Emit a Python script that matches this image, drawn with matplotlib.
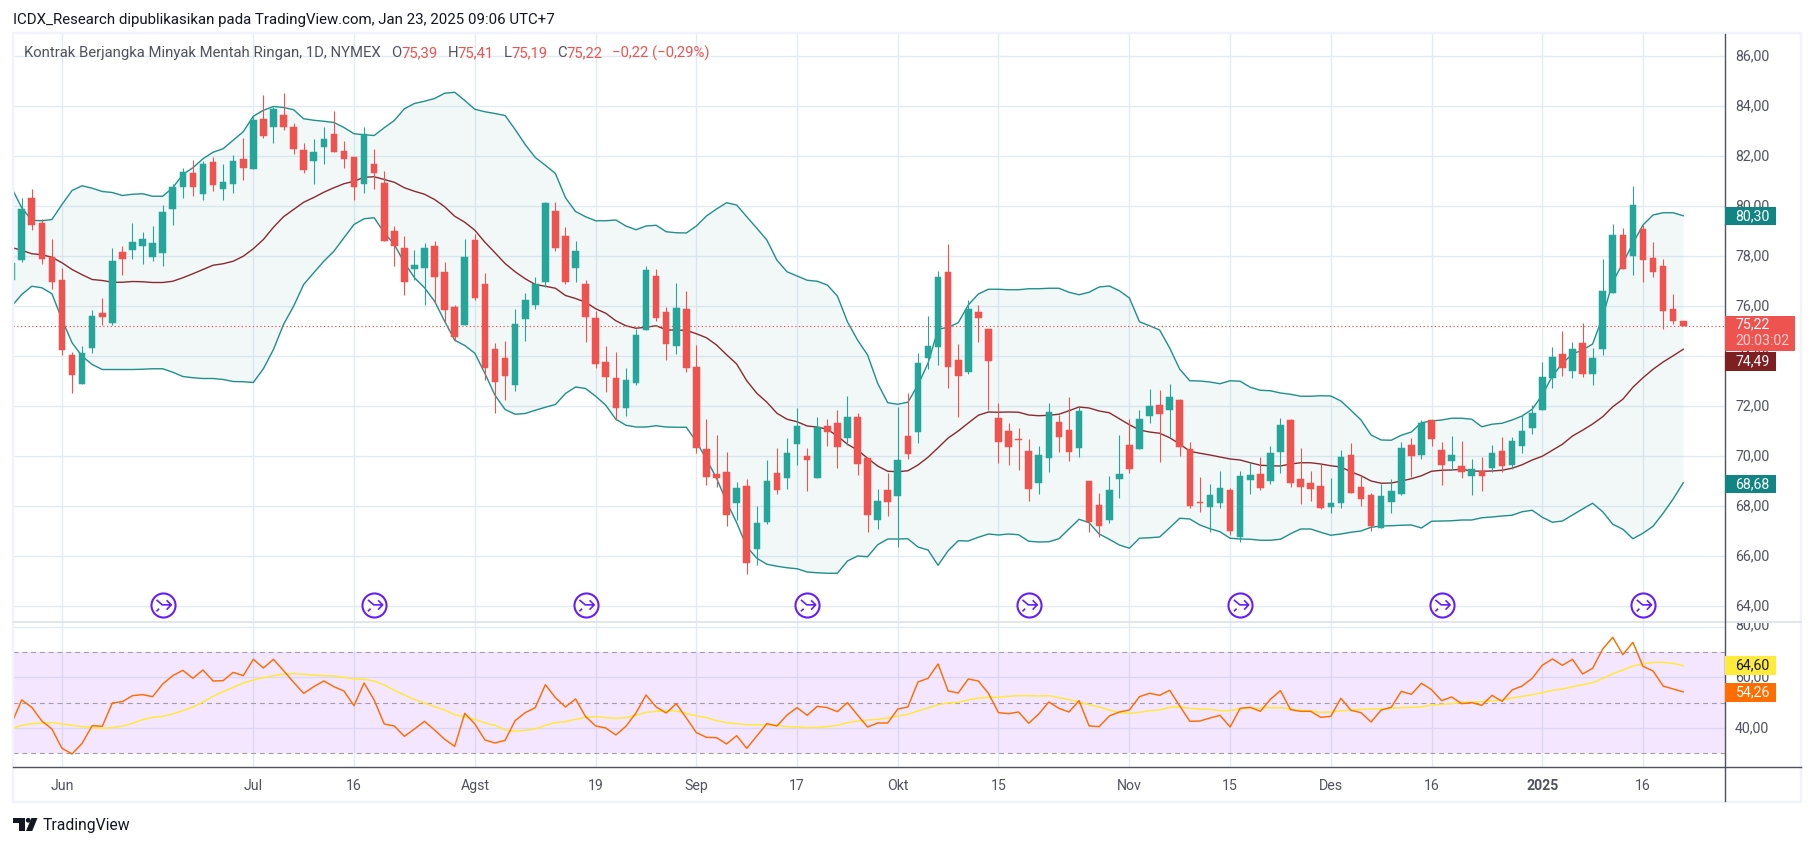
import numpy as np
import matplotlib
matplotlib.use("Agg")
import matplotlib.pyplot as plt
from matplotlib.patches import Rectangle, Polygon
from matplotlib.lines import Line2D
from matplotlib.path import Path
from matplotlib.transforms import Bbox, ScaledTranslation

plt.rcParams['font.family'] = ['Roboto', 'DejaVu Sans']

opens = [77.03,
77.83,80.31,79.31,77.98,77.03,74.07,72.91,74.31,75.71,75.35,78.15,78.23,78.39,77.95,78.11,79.91,80.75,81.31,80.47,81.75,
80.71,80.87,81.91,81.47,83.47,83.19,83.63,83.19,82.27,81.79,82.39,82.91,82.19,81.95,80.87,81.71,80.91,78.99,78.31,77.47,
77.51,78.39,77.35,75.95,75.23,78.63,76.91,74.27,73.91,72.83,75.47,76.03,76.99,79.79,78.79,77.51,76.87,75.51,73.77,73.13,
71.93,72.93,75.06,77.21,75.77,74.41,75.89,73.57,70.29,69.29,69.37,68.13,68.81,66.29,67.37,69.33,69.13,70.49,70.01,69.13,
71.21,71.33,70.73,71.57,69.93,67.45,68.65,68.41,70.81,70.97,73.93,74.37,77.37,73.85,73.37,75.77,75.09,71.53,71.01,70.68,
70.21,68.93,69.93,71.37,71.05,70.33,69.01,68.05,67.45,69.09,70.45,70.29,71.61,72.05,71.85,72.25,70.29,68.17,67.97,68.13,
68.65,66.77,69.05,69.29,69.01,70.17,71.45,69.09,68.93,68.81,67.97,68.13,70.05,68.77,68.45,67.13,68.17,68.49,70.45,70.05,
71.45,70.25,69.81,69.61,69.21,69.40,69.53,70.21,69.65,70.41,71.13,71.85,73.13,74.09,73.41,74.53,73.29,74.29,76.53,78.85,
78.01,79.09,77.93,77.61,75.89,75.39]
highs = [78.30,
80.34,80.67,79.47,78.67,77.54,74.18,74.39,75.83,76.31,78.35,78.39,79.35,78.95,79.19,80.07,80.91,81.55,81.83,81.79,81.95,
81.67,82.07,82.75,83.60,84.43,83.99,84.55,83.35,82.51,82.71,83.15,83.79,82.63,81.95,83.15,82.31,81.39,79.19,78.79,78.23,
78.51,78.63,77.75,76.03,78.71,78.91,77.35,74.51,74.59,75.87,76.55,77.15,80.19,80.19,79.15,78.63,77.03,75.79,74.41,74.17,
73.53,75.09,77.61,77.49,75.97,76.93,76.61,74.45,71.49,70.85,70.17,68.97,69.09,68.01,69.85,70.33,70.73,71.93,70.33,71.57,
71.49,71.85,72.41,71.73,69.93,68.69,69.33,71.97,72.53,74.13,75.61,77.41,78.49,74.49,76.25,76.05,75.09,72.13,71.33,71.13,
70.69,70.41,72.13,71.65,72.37,71.97,69.01,68.53,69.21,70.85,71.49,71.85,72.69,72.65,72.89,72.29,70.57,69.17,68.89,69.41,
68.73,69.41,69.77,69.97,70.41,71.53,71.49,70.33,69.41,69.69,69.13,70.25,70.53,69.21,68.53,68.89,69.09,70.57,70.73,71.45,
71.45,70.57,70.81,70.61,69.89,69.97,70.45,70.77,70.77,71.65,72.05,73.77,74.37,75.01,74.57,75.33,74.33,77.89,79.29,79.13,
80.81,79.25,78.57,77.89,76.49,75.41]
lows = [76.90,
77.76,79.04,77.67,76.71,74.04,72.51,72.87,74.11,75.27,75.26,77.27,77.91,77.71,77.79,77.63,79.23,80.35,80.39,80.27,80.59,
80.23,80.55,81.03,81.47,82.75,82.51,83.07,82.11,81.31,80.87,81.67,82.15,81.51,80.27,80.51,80.67,78.63,77.59,76.43,77.07,
76.07,76.11,75.35,74.63,75.23,76.27,73.03,71.72,72.23,72.63,74.63,75.91,76.75,78.19,76.87,76.99,74.55,73.51,72.57,71.45,
71.61,72.85,75.05,75.41,73.85,74.09,73.37,70.13,68.85,68.77,67.21,67.45,65.29,65.65,67.29,68.49,68.69,69.65,68.61,69.13,
70.41,69.53,70.45,69.25,66.97,67.09,67.61,66.37,69.89,70.53,73.49,73.65,72.73,71.57,73.29,74.57,71.85,69.73,69.65,69.45,
68.21,68.49,69.37,70.17,69.81,69.97,66.97,66.77,67.33,68.33,69.33,70.29,71.33,69.77,70.77,70.01,67.93,67.77,66.97,67.93,
66.85,66.57,68.49,68.65,68.89,69.33,68.77,68.09,68.21,67.89,67.73,67.93,68.53,68.01,67.01,67.13,67.73,68.45,69.17,69.89,
70.41,68.85,69.45,69.13,68.45,68.61,69.37,69.37,69.49,70.13,70.89,71.85,72.73,73.21,73.13,73.17,72.85,74.05,76.53,77.49,
77.25,76.97,77.17,75.09,75.29,75.19]
closes = [77.74,
79.87,79.23,77.91,76.99,74.23,73.27,74.11,75.59,75.55,77.79,77.91,78.55,78.67,78.51,79.75,80.75,81.35,80.75,81.67,80.83,
80.95,81.79,81.55,83.43,82.79,83.91,83.15,82.31,81.43,82.15,82.67,82.19,81.91,80.75,82.87,81.31,78.63,78.39,76.95,77.63,
78.31,77.15,75.83,74.75,77.95,76.31,73.51,72.95,73.19,75.27,76.23,76.87,80.11,78.35,76.99,78.19,75.55,73.67,73.17,71.93,
73.05,74.85,77.45,75.53,74.49,75.93,73.53,70.33,69.17,69.13,67.65,68.73,65.73,67.33,69.01,68.65,70.13,71.21,69.85,71.17,
70.97,70.37,71.57,69.69,67.65,68.21,68.17,69.85,70.09,73.73,74.41,77.17,73.57,73.21,75.89,75.53,73.81,70.57,70.37,70.65,
68.69,70.05,71.77,70.77,70.17,71.81,67.37,67.21,68.65,69.29,69.49,71.49,72.01,71.69,72.37,70.37,68.01,68.14,68.45,68.73,
67.01,69.21,69.25,68.73,70.13,71.25,68.93,68.77,68.69,67.93,68.13,69.97,68.53,68.29,67.21,68.41,68.61,70.33,70.01,71.33,
70.69,69.65,70.05,69.37,69.49,69.21,70.13,69.61,70.61,71.01,71.73,73.17,73.97,73.53,74.29,73.29,73.93,76.61,78.85,77.49,
80.05,77.85,77.37,75.81,75.41,75.22]

bb_upper = [80.74,
79.94,79.44,79.42,79.47,80.07,80.63,80.82,80.72,80.59,80.55,80.43,80.48,80.50,80.40,80.40,80.74,81.27,81.54,81.90,82.16,
82.30,82.64,82.98,83.60,83.84,83.99,83.95,83.86,83.50,83.44,83.40,83.35,83.15,82.90,82.86,82.83,83.14,83.43,83.90,84.11,
84.20,84.31,84.52,84.56,84.23,83.88,83.78,83.71,83.63,83.07,82.47,81.95,81.64,81.31,80.34,79.79,79.58,79.42,79.42,79.45,
79.21,79.06,79.21,79.24,78.98,78.94,78.93,79.21,79.61,79.89,80.14,80.05,79.58,79.12,78.65,77.84,77.38,77.21,77.04,77.00,
76.85,76.41,75.38,74.65,74.05,72.92,72.14,72.08,72.16,72.85,73.72,75.08,75.16,75.34,76.05,76.49,76.68,76.68,76.66,76.66,
76.70,76.70,76.72,76.72,76.56,76.46,76.56,76.77,76.81,76.62,76.33,75.38,75.22,75.05,74.33,73.48,73.02,73.01,72.97,72.90,
73.02,73.00,72.76,72.64,72.62,72.53,72.48,72.40,72.40,72.42,72.41,72.21,71.84,71.45,70.85,70.65,70.64,70.84,70.97,71.34,
71.41,71.45,71.52,71.52,71.48,71.18,71.28,71.32,71.45,71.61,71.88,72.45,73.21,73.72,74.09,74.25,74.49,75.58,76.98,77.72,
78.52,79.25,79.65,79.74,79.74,79.62]
bb_basis = [78.35,
78.24,78.10,78.06,77.96,77.74,77.47,77.26,77.07,77.03,76.96,76.96,76.99,76.98,76.95,76.95,77.00,77.14,77.30,77.47,77.64,
77.70,77.80,78.00,78.30,78.67,79.16,79.58,79.87,80.16,80.35,80.56,80.74,80.90,81.00,81.16,81.18,81.07,80.96,80.74,80.60,
80.48,80.27,79.98,79.60,79.36,79.04,78.56,78.14,77.71,77.38,77.10,76.87,76.80,76.72,76.43,76.31,76.16,75.90,75.72,75.42,
75.22,75.12,75.16,75.22,75.06,75.04,75.04,74.90,74.74,74.45,74.06,73.69,73.02,72.52,72.16,71.72,71.48,71.38,71.21,71.17,
71.08,70.81,70.48,70.25,69.92,69.61,69.40,69.38,69.42,69.65,69.96,70.34,70.73,71.01,71.33,71.64,71.77,71.76,71.77,71.76,
71.65,71.62,71.64,71.68,71.82,71.97,71.93,71.81,71.74,71.50,71.26,71.05,70.97,70.92,70.74,70.49,70.20,70.12,70.05,69.97,
69.89,69.85,69.74,69.64,69.62,69.61,69.69,69.74,69.74,69.69,69.62,69.57,69.38,69.22,69.01,68.92,68.93,69.01,69.10,69.22,
69.40,69.44,69.45,69.48,69.41,69.40,69.41,69.44,69.52,69.66,69.85,70.00,70.24,70.48,70.81,71.04,71.29,71.58,71.98,72.28,
72.76,73.14,73.48,73.77,74.02,74.28]
bb_lower = [76.00,
76.47,76.80,76.74,76.50,75.47,74.54,74.00,73.67,73.47,73.47,73.47,73.47,73.48,73.50,73.50,73.36,73.19,73.14,73.11,73.11,
73.07,72.99,72.98,72.95,73.50,74.27,75.27,76.00,76.87,77.34,77.80,78.20,78.74,79.27,79.50,79.54,78.94,78.47,77.74,77.14,
76.74,76.20,75.40,74.64,74.43,74.12,73.31,72.44,71.87,71.68,71.71,71.84,71.96,72.07,72.51,72.77,72.71,72.40,72.04,71.48,
71.24,71.17,71.17,71.22,71.17,71.16,71.16,70.58,69.88,69.12,68.18,67.34,66.38,65.92,65.68,65.60,65.54,65.50,65.37,65.34,
65.32,65.32,65.81,66.01,65.98,66.46,66.69,66.69,66.70,66.37,66.25,65.64,66.22,66.62,66.61,66.76,66.89,66.85,66.89,66.86,
66.60,66.57,66.58,66.70,67.09,67.48,67.34,66.89,66.68,66.45,66.32,66.72,66.74,66.77,67.14,67.52,67.49,67.25,67.10,66.98,
66.72,66.69,66.68,66.64,66.64,66.68,66.90,67.09,67.09,66.96,66.84,66.89,66.96,67.01,67.16,67.21,67.22,67.24,67.25,67.13,
67.40,67.41,67.42,67.45,67.45,67.54,67.57,67.61,67.64,67.78,67.84,67.56,67.36,67.41,67.65,67.89,68.12,67.78,67.28,67.08,
66.70,66.92,67.20,67.72,68.29,68.94]

rsi_values = [41.84,
51.05,48.16,42.76,39.60,31.97,29.74,33.95,40.92,40.66,49.87,50.39,52.76,53.16,52.37,57.37,60.66,62.76,59.60,62.89,58.55,
58.68,61.97,60.66,67.10,63.68,67.10,62.63,58.03,53.68,56.31,58.55,56.31,54.60,48.81,57.76,51.05,41.58,40.79,36.71,39.60,
42.63,39.21,35.53,32.76,45.79,41.58,35.26,34.08,35.13,42.89,46.05,48.03,57.10,51.97,48.29,51.45,44.47,40.79,40.00,37.24,
40.66,45.92,53.03,48.29,45.92,49.60,43.95,38.16,36.31,36.18,33.68,36.97,31.97,36.84,41.71,40.79,45.13,48.03,45.00,48.55,
48.03,46.45,50.00,45.13,40.39,41.97,41.97,47.50,48.29,58.16,59.60,65.26,54.60,53.81,59.34,58.55,53.68,46.05,45.66,46.31,
41.84,45.53,50.26,47.76,46.31,50.79,40.79,40.53,44.74,46.31,47.10,52.37,53.68,52.89,54.87,48.68,42.63,42.76,43.95,45.00,
40.39,47.76,48.16,46.58,51.31,54.74,47.24,46.58,46.58,44.21,44.60,51.71,46.97,46.05,42.37,47.10,48.16,54.47,53.29,57.63,
55.13,50.79,52.24,49.60,50.00,48.95,52.89,50.53,55.00,56.58,59.60,64.74,67.24,64.74,67.10,61.31,63.55,71.18,75.79,68.95,
73.81,64.34,62.50,56.58,55.39,54.26]
rsi_ma = [39.74,
41.05,41.71,41.84,42.10,41.58,41.05,40.53,40.13,39.87,40.13,40.79,41.84,43.29,44.21,44.60,45.53,46.84,48.29,50.26,52.50,
54.34,56.05,57.76,58.95,59.87,60.66,61.31,61.45,61.18,60.92,60.66,60.53,60.00,59.34,59.21,58.55,56.97,54.87,53.03,51.18,
49.87,48.42,47.10,45.26,44.34,43.42,41.97,41.05,39.21,38.68,39.07,39.60,41.05,42.10,42.50,43.42,44.21,44.47,44.08,43.81,
44.08,45.00,46.18,46.58,46.71,46.71,45.79,44.74,44.08,42.89,42.10,41.71,41.31,41.31,41.31,41.05,40.53,40.39,40.13,40.26,
40.53,41.05,42.10,42.76,43.15,43.42,43.95,44.74,45.39,46.71,47.89,49.20,49.87,50.12,51.05,51.83,52.10,52.10,52.50,52.76,
52.76,52.62,52.76,51.97,51.18,50.26,49.20,48.29,47.10,46.05,45.79,46.18,46.84,47.10,48.16,48.29,47.76,47.50,47.36,46.84,
46.84,47.63,47.76,47.89,48.02,48.02,47.50,46.97,46.71,46.18,46.31,46.84,47.10,47.36,47.50,47.50,47.76,48.02,48.16,48.29,
49.07,49.33,49.60,50.12,50.26,50.39,50.79,51.05,51.83,52.50,53.15,53.94,54.87,55.39,56.31,57.10,57.89,59.47,61.45,62.89,
64.47,65.26,65.92,65.92,65.52,64.60]

price_ticks = [64, 66, 68, 70, 72, 74, 76, 78, 80, 82, 84, 86]
time_ticks = [4, 23, 33, 45, 57, 67, 77, 87, 97, 110, 120, 130, 140, 151, 161]
time_labels = ['Jun', 'Jul', '16', 'Agst', '19', 'Sep', '17', 'Okt', '15', 'Nov', '15', 'Des', '16', '2025', '16']
event_bars = [14, 35, 56, 78, 100, 121, 141, 161]
event_level = 64.03
last_price = 75.22

W, H = 1814, 846
fig = plt.figure(figsize=(W / 100, H / 100), dpi=100, facecolor='white')

def fx(x): return x / W
def fy(y): return 1 - y / H
def box(l, t, r, b): return [fx(l), fy(b), (r - l) / W, (b - t) / H]

GREEN, RED = '#26a69a', '#ef5350'
GRID = '#e1ecf2'
GREY = '#50535e'
TEAL = '#138484'
PX = 0.72

idx = np.arange(-1, 166)
xlim = ((13 - 21.7) / 10.07, (1724.5 - 21.7) / 10.07)

ax = fig.add_axes(box(13, 34, 1724.5, 622))
ax.set_xlim(*xlim)
ax.set_ylim(63.37, 86.89)
rax = fig.add_axes(box(13, 622.5, 1724.5, 767))
rax.set_xlim(*xlim)
rax.set_ylim(24.6, 81.64)

for a in (ax, rax):
    a.patch.set_alpha(0)
    for s in a.spines.values():
        s.set_visible(False)
    a.set_axisbelow(True)
    a.grid(True, color=GRID, lw=1.4 * PX)
    a.yaxis.tick_right()
    a.set_xticks(time_ticks)

ax.set_yticks(price_ticks)
ax.set_yticklabels([f'{t},00' for t in price_ticks])
ax.tick_params(axis='x', length=0, labelbottom=False)
ax.tick_params(axis='y', length=0, pad=7.6, labelsize=10.2, labelcolor=GREY)

rax.set_yticks([40, 60, 80])
rax.set_yticklabels(['40,00', '60,00', ''])
rax.tick_params(axis='y', length=0, pad=7.6, labelsize=10.2, labelcolor=GREY)
rax.set_xticklabels(time_labels)
rax.tick_params(axis='x', length=0, pad=8.6, labelsize=10.2, labelcolor=GREY)
for lab, txt in zip(rax.get_xticklabels(), time_labels):
    if txt == '2025':
        lab.set_fontweight('bold')

lift = ScaledTranslation(0, 1.5 / 100, fig.dpi_scale_trans)
for a in (ax, rax):
    for lab in a.get_yticklabels():
        lab.set_transform(lab.get_transform() + lift)

# Bollinger bands
ax.fill_between(idx, bb_lower, bb_upper, color=TEAL, alpha=0.05, lw=0, zorder=1)
ax.plot(idx, bb_upper, color='#1f8f8b', lw=1.0, zorder=2.2)
ax.plot(idx, bb_lower, color='#1f8f8b', lw=1.0, zorder=2.2)
ax.plot(idx, bb_basis, color='#8a2a30', lw=1.0, zorder=2.2)

# Candles
o, h, l, c = map(np.array, (opens, highs, lows, closes))
cols = np.where(c >= o, GREEN, RED)
ax.vlines(idx, l, h, colors=cols, lw=1.1 * PX, zorder=3)
ax.bar(idx, np.abs(c - o), bottom=np.minimum(o, c), width=6.6 / 10.07,
       color=cols, edgecolor=cols, lw=0.35, zorder=3.1)

# last price line
ax.axhline(last_price, color=RED, lw=1.1 * PX, ls=(0, (1.2, 2.2)), zorder=2.5)

# events
ax.scatter(event_bars, [event_level] * len(event_bars), s=300, facecolor='white',
           edgecolor='#651fff', lw=1.5, zorder=6, clip_on=False)
arrow = Path([(-.49, .44), (-.03, .05), (.67, .05), (.31, .41), (.67, .05), (.31, -.33), (-.49, -.46), (-.28, -.25)],
             [Path.MOVETO, Path.LINETO, Path.LINETO, Path.MOVETO, Path.LINETO, Path.LINETO, Path.MOVETO, Path.LINETO])
ax.scatter(event_bars, [event_level] * len(event_bars), s=150, marker=arrow, facecolor='none',
           edgecolor='#651fff', lw=1.2, zorder=7)

# RSI
rax.axhspan(30, 70, facecolor='#b039ff', alpha=0.12, lw=0, zorder=1)
for lv in (30, 50, 70):
    rax.axhline(lv, color='#a39ca8', lw=1.1 * PX, ls=(0, (4.5, 3.5)), zorder=1.5)
rax.plot(idx, rsi_ma, color='#ffe93b', lw=1.1, zorder=2)
rax.plot(idx, rsi_values, color='#ff6d00', lw=1.05, zorder=3)

# frame and axes lines
fig.add_artist(Rectangle((fx(13), fy(801.5)), (1801 - 13) / W, (801.5 - 33.5) / H, transform=fig.transFigure,
                         fill=False, edgecolor='#f0f3fa', lw=2.4 * PX, zorder=4))
def hline(y, x0, x1, col, lw=1.2, z=4):
    fig.add_artist(Line2D([fx(x0), fx(x1)], [fy(y), fy(y)], color=col, lw=lw * PX, zorder=z))
def vline(x, y0, y1, col, lw=1.2, z=4):
    fig.add_artist(Line2D([fx(x), fx(x)], [fy(y0), fy(y1)], color=col, lw=lw * PX, zorder=z))
hline(622.4, 13, 1801, '#e0e3eb', 1.8)
hline(767, 13, 1801, GREY, 1.4)
vline(1724.5, 34, 801, GREY, 1.4)

# clipped 80,00 label in RSI scale
t80 = fig.text(fx(1735), fy(625), '80,00', color=GREY, fontsize=10.2, va='center', ha='left', zorder=4)
t80.set_clip_box(Bbox([[1725, 0], [1800, H - 622.8]]))
t80.set_clip_on(True)

# price labels
def label(t, b, r, col, txt, tcol='white', ty=None, z=5):
    fig.add_artist(Rectangle((fx(1725), fy(b)), (r - 1725) / W, (b - t) / H, transform=fig.transFigure,
                             facecolor=col, edgecolor='none', zorder=z))
    y = (t + b) / 2 if ty is None else ty
    fig.text(fx(1735.5), fy(y), txt, color=tcol, fontsize=10.2, va='center', ha='left', zorder=z + 1)

label(207.3, 225.3, 1775.6, TEAL, '80,30')
label(352.3, 370.7, 1775.6, '#7f1f22', '74,49')
label(475, 493.3, 1775.6, TEAL, '68,68')
label(656, 675, 1775.6, '#ffeb3b', '64,60', '#131722')
label(683, 701.7, 1775.6, '#ff6d00', '54,26')
label(316, 350.7, 1795, RED, '75,22', ty=324.5)
fig.text(fx(1735.5), fy(341), '20:03:02', color='#fbd0cf', fontsize=10.2, va='center', ha='left', zorder=6)

# header
fig.text(fx(13), fy(20), 'ICDX_Research dipublikasikan pada TradingView.com, Jan 23, 2025 09:06 UTC+7',
         color='#131722', fontsize=10.8, va='center', ha='left')
LEG = 10.75
yl = fy(53)
fig.text(fx(23.5), yl, 'Kontrak Berjangka Minyak Mentah Ringan, 1D, NYMEX', color=GREY, fontsize=LEG, va='center')
for x, s, col in [(391.5, 'O', GREY), (401.5, '75,39', RED), (447.7, 'H', GREY), (457.7, '75,41', RED),
                  (503.7, 'L', GREY), (511.7, '75,19', RED), (556.7, 'C', GREY), (566.7, '75,22', RED),
                  (612.3, '\u22120,22 (\u22120,29%)', RED)]:
    fig.text(fx(x), yl, s, color=col, fontsize=LEG, va='center')

# TradingView logo
def poly(pts, col='#131722'):
    fig.add_artist(Polygon([(fx(x), fy(y)) for x, y in pts], closed=True, transform=fig.transFigure,
                           facecolor=col, edgecolor='none', zorder=4))
poly([(13, 818), (25, 818), (25, 831), (19, 831), (19, 822.6), (13, 822.6)])
poly([(31.4, 818), (37.5, 818), (32.2, 831), (26, 831)])
dot = [(28.2 + 2.4 * np.cos(a), 820.3 + 2.4 * np.sin(a)) for a in np.linspace(0, 2 * np.pi, 24)]
poly(dot)
fig.text(fx(43), fy(825), 'TradingView', color='#131722', fontsize=11.3, va='center', ha='left')

fig.savefig('out.png', dpi=100, facecolor='white')
